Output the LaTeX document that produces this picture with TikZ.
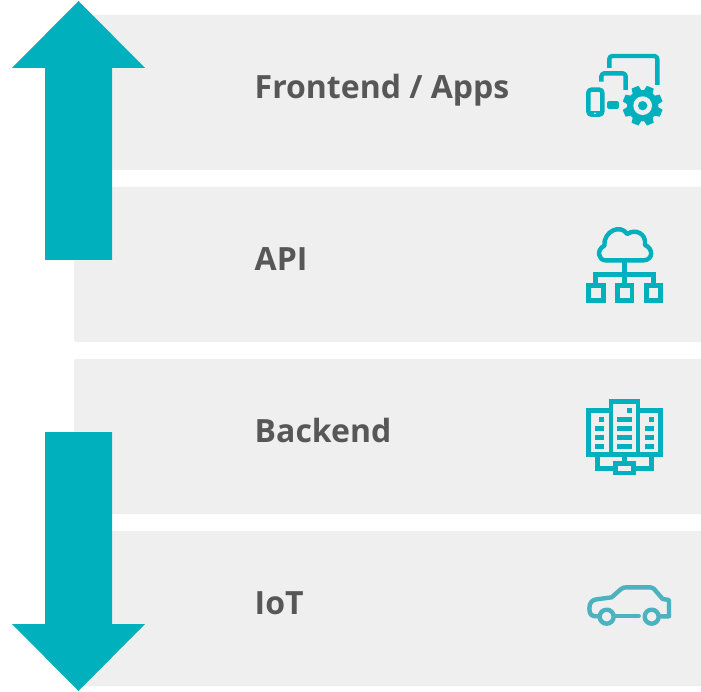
\documentclass[tikz,border=0pt]{standalone}
\usepackage{fontspec}
\setmainfont{Open Sans}
\definecolor{panel}{HTML}{EFEFEF}
\definecolor{teal1}{HTML}{00B0BD}
\definecolor{teal2}{HTML}{4DB2BF}
\definecolor{label}{HTML}{575757}
\tikzset{
  panelbox/.style={fill=panel,rounded corners=2pt},
  arrowshape/.style={fill=teal1},
  lab/.style={text=label,font=\fontsize{32}{36}\selectfont\bfseries,anchor=base west,inner sep=0pt},
  ic/.style={draw=teal1,line width=4.4pt,line join=round},
  icfill/.style={fill=teal1},
  icgap/.style={fill=panel},
}
\begin{document}
\begin{tikzpicture}[x=1pt,y=-1pt]
\useasboundingbox (0,0) rectangle (701,692);
\fill[white] (0,0) rectangle (701,692);
\fill[panelbox] (74,15) rectangle (705,170);
\fill[panelbox] (74,187) rectangle (705,342);
\fill[panelbox] (74,359) rectangle (705,514);
\fill[panelbox] (74,531) rectangle (705,686);
\fill[arrowshape] (78.5,1) -- (145,68) -- (112,68) -- (112,260) -- (45,260) -- (45,68) -- (12,68) -- cycle;
\fill[arrowshape] (78.5,691) -- (145,624) -- (112,624) -- (112,432) -- (45,432) -- (45,624) -- (12,624) -- cycle;
\node[lab] (front) at (254.5,99) {Frontend / Apps};
\node[lab] (api) at (254.5,271) {API};
\node[lab] (back) at (254.5,442) {Backend};
\node[lab] (iot) at (254.5,614) {IoT};
% devices icon
\begin{scope}[shift={(570,40)},x=0.3333pt,y=-0.3333pt]
\draw[ic,rounded corners=3pt] (118,84) -- (118,48) -- (262,48) -- (262,135);
\draw[ic,rounded corners=3pt] (94,125) -- (94,100) -- (167,100) -- (167,150);
\draw[ic,rounded corners=3pt] (55,149) rectangle (97,224);
\fill[icfill] (55,212) rectangle (97,224);
\fill[panel] (75,220) circle (3);
\draw[ic,line width=4pt] (118,190) rectangle (140,200);
\begin{scope}[shift={(218,197)}]
\foreach \a in {0,45,...,315}
  \fill[icfill,rotate=\a+22.5] (44,-14) -- (60,-11) -- (60,11) -- (44,14) -- cycle;
\fill[icfill] (0,0) circle (47);
\fill[icgap] (0,0) circle (28);
\fill[icfill] (0,0) circle (14);
\end{scope}
\end{scope}
% cloud icon
\begin{scope}[shift={(570,215)},x=0.3333pt,y=-0.3333pt]
\draw[ic] (105,136) .. controls (85,134) and (78,105) .. (103,92)
  .. controls (100,50) and (150,25) .. (172,57)
  .. controls (195,40) and (230,55) .. (225,90)
  .. controls (250,100) and (250,134) .. (222,136) -- cycle;
\draw[ic] (163,136) -- (163,178);
\draw[ic,line join=miter] (76,205) -- (76,178) -- (250,178) -- (250,205);
\draw[ic] (163,178) -- (163,205);
\draw[ic,line join=miter] (55,212) rectangle (101,256);
\draw[ic,line join=miter] (142,212) rectangle (186,256);
\draw[ic,line join=miter] (229,212) rectangle (272,256);
\end{scope}
% servers icon
\begin{scope}[shift={(570,390)},x=0.3333pt,y=-0.3333pt]
\draw[ic,line join=miter] (55,62) rectangle (271,194);
\fill[panel] (117,41) rectangle (210,187);
\draw[ic,line join=miter] (123,194) -- (123,34) -- (204,34) -- (204,194);
\foreach \y in {108,135,162}{
  \fill[icfill] (75,\y) rectangle (103,\y+14);
  \fill[icfill] (142,\y) rectangle (185,\y+14);
  \fill[icfill] (225,\y) rectangle (252,\y+14);
}
\fill[icfill] (142,80) rectangle (185,95);
\fill[icfill] (88,80) rectangle (103,95);
\fill[icfill] (170,55) rectangle (185,70);
\fill[icfill] (238,80) rectangle (252,95);
\draw[ic] (163,200) -- (163,215);
\draw[ic,line join=miter] (82,200) -- (82,235) -- (130,235);
\draw[ic,line join=miter] (245,200) -- (245,235) -- (197,235);
\draw[ic,line join=miter] (136,221) rectangle (191,249);
\end{scope}
% car icon
\begin{scope}[shift={(570,565)},x=0.3333pt,y=-0.3333pt]
\draw[ic,draw=teal2,line cap=round] (82,154) .. controls (65,154) and (58,150) .. (58,130)
  .. controls (58,112) and (68,104) .. (80,103) -- (125,97) -- (152,73)
  .. controls (158,68) and (162,67) .. (170,67) -- (240,67)
  .. controls (248,67) and (250,70) .. (254,74) -- (278,102) -- (297,105) -- (297,154) -- (272,154);
\draw[ic,draw=teal2,line cap=round] (138,153) -- (206,153);
\draw[ic,draw=teal2] (110,155) circle (21);
\draw[ic,draw=teal2] (245,155) circle (21);
\end{scope}
\end{tikzpicture}
\end{document}
